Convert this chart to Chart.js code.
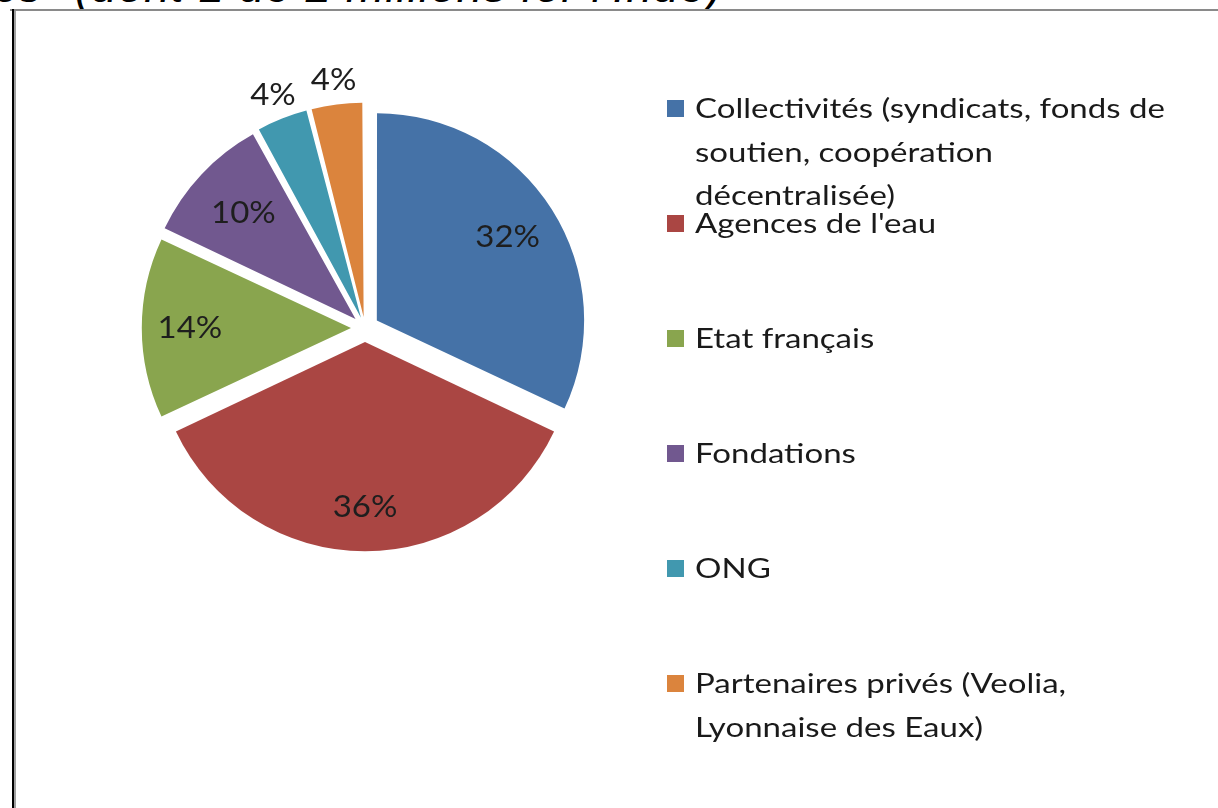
<!DOCTYPE html>
<html>
<head>
<meta charset="utf-8">
<script src="https://cdn.jsdelivr.net/npm/chart.js@4"></script>
<style>
  html, body { margin: 0; padding: 0; background: #ffffff; overflow: hidden; }
  body { width: 1218px; height: 808px; position: relative; }
  #title { position: absolute; left: -6px; top: -41px; font-family: "Liberation Sans", sans-serif; font-size: 46px; color: #000; white-space: nowrap; }
  #title i { font-style: italic; margin-left: 22px; letter-spacing: 1px; }
  #frameTop { position: absolute; left: 10px; top: 9px; width: 1208px; height: 2px; background: #8a8a8a; }
  #frameLeft { position: absolute; left: 12px; top: 9px; width: 2px; height: 799px; background: #000; }
  #frameLeft2 { position: absolute; left: 14px; top: 11px; width: 2px; height: 797px; background: #a0a0a0; }
  #cover { position: absolute; left: 16px; top: 11px; width: 1202px; height: 797px; background: #fff; }
  #c { position: absolute; left: 0; top: 0; }
</style>
</head>
<body>
<div id="title">ɔs <i>(dont 1 de 2 millions for l'Inde)</i></div>
<div id="cover"></div>
<div id="frameTop"></div>
<div id="frameLeft"></div>
<div id="frameLeft2"></div>
<canvas id="c" width="1218" height="808"></canvas>
<script>
const categories = [
  "Collectivités (syndicats, fonds de soutien, coopération décentralisée)",
  "Agences de l'eau",
  "Etat français",
  "Fondations",
  "ONG",
  "Partenaires privés (Veolia, Lyonnaise des Eaux)"
];
const legendLines = [
  ["Collectivités (syndicats, fonds de", "soutien, coopération", "décentralisée)"],
  ["Agences de l'eau"],
  ["Etat français"],
  ["Fondations"],
  ["ONG"],
  ["Partenaires privés (Veolia,", "Lyonnaise des Eaux)"]
];
const shares = [32, 36, 14, 10, 4, 4];
const pctLabels = ["32%", "36%", "14%", "10%", "4%", "4%"];
const colors = ["#4572A7", "#AA4643", "#89A54E", "#71588F", "#4198AF", "#DB843D"];

const FONT = "Lato, 'Open Sans', sans-serif";

const labelPlugin = {
  id: 'pctLabels',
  afterDatasetsDraw(chart) {
    const ctx = chart.ctx;
    const meta = chart.getDatasetMeta(0);
    const radial = [0.82, 0.87, 0.85, 0.81];
    ctx.save();
    ctx.font = "30px " + FONT;
    ctx.fillStyle = "#1e1e1e";
    ctx.textAlign = "center";
    ctx.textBaseline = "middle";
    const R = meta.controller.outerRadius !== undefined ? meta.controller.outerRadius : meta.data[0].outerRadius;
    meta.data.forEach((arc, i) => {
      const p = arc.getProps(['x','y','startAngle','endAngle']);
      const mid = (p.startAngle + p.endAngle) / 2;
      const small = shares[i] < 5;
      const r = small ? R + 44 : R * radial[i];
      const x = p.x + Math.cos(mid) * r;
      const y = p.y + Math.sin(mid) * r;
      ctx.save();
      ctx.translate(x, y);
      ctx.scale(1.1, 1);
      ctx.fillText(pctLabels[i], 0, 0);
      ctx.restore();
    });
    ctx.restore();
  }
};

const legendPlugin = {
  id: 'sideLegend',
  afterDraw(chart) {
    const ctx = chart.ctx;
    const x0 = 667, firstBase = 118, step = 115, lineStep = 43.5;
    ctx.save();
    ctx.font = "26px " + FONT;
    ctx.textBaseline = "alphabetic";
    ctx.textAlign = "left";
    const meta = chart.getDatasetMeta(0);
    legendLines.forEach((lines, i) => {
      const base = firstBase + i * step;
      ctx.fillStyle = meta.data[i].options.backgroundColor;
      ctx.fillRect(x0, base - 18, 17, 17);
      ctx.fillStyle = "#1a1a1a";
      lines.forEach((t, j) => {
        ctx.save();
        ctx.translate(x0 + 28, base + j * lineStep);
        ctx.scale(1.27, 1);
        ctx.fillText(t, 0, 0);
        ctx.restore();
      });
    });
    ctx.restore();
  }
};

new Chart(document.getElementById('c'), {
  type: 'pie',
  data: {
    labels: categories,
    datasets: [{
      data: shares,
      backgroundColor: colors,
      borderWidth: 0,
      offset: [56, 56, 56, 52, 44, 44]
    }]
  },
  options: {
    responsive: false,
    animation: false,
    layout: { padding: { left: 131, top: 94, right: 1218 - 599, bottom: 808 - 562 } },
    plugins: { legend: { display: false }, tooltip: { enabled: false } }
  },
  plugins: [labelPlugin, legendPlugin]
});
</script>
</body>
</html>
